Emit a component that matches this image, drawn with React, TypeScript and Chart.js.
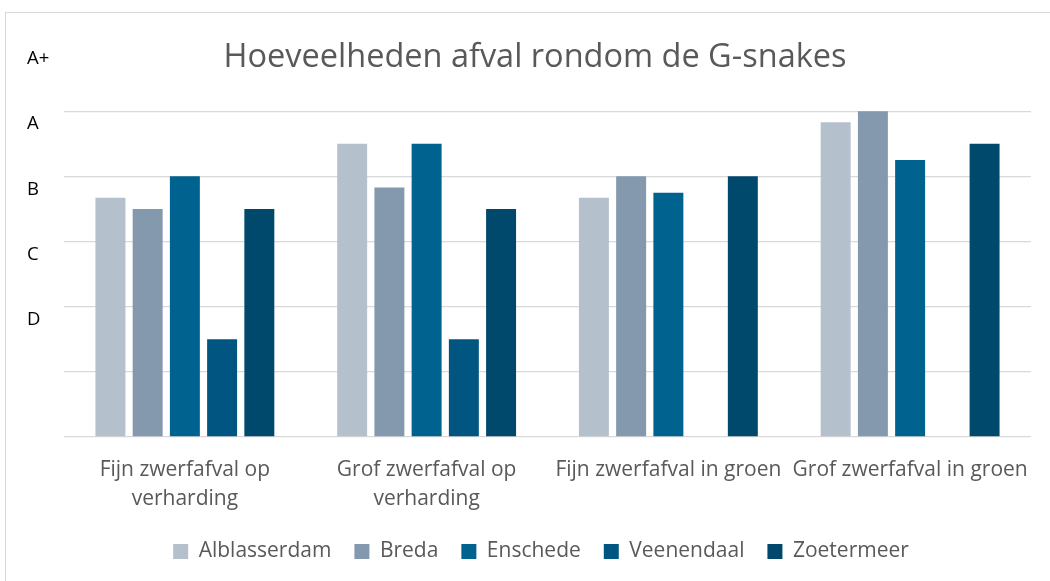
import React, { useEffect, useRef } from "react";
import { Chart, registerables } from "chart.js";

Chart.register(...registerables);

const TITLE = "Hoeveelheden afval rondom de G-snakes";
const categories: string[][] = [
  ["Fijn zwerfafval op", "verharding"],
  ["Grof zwerfafval op", "verharding"],
  ["Fijn zwerfafval in groen"],
  ["Grof zwerfafval in groen"],
];
const seriesNames = ["Alblasserdam", "Breda", "Enschede", "Veenendaal", "Zoetermeer"];
const alblasserdam = [3.67, 4.5, 3.67, 4.83];
const breda = [3.5, 3.83, 4, 5];
const enschede = [4, 4.5, 3.75, 4.25];
const veenendaal: (number | null)[] = [1.5, 1.5, null, null];
const zoetermeer = [3.5, 3.5, 4, 4.5];
const seriesColors = ["#B4C1CD", "#8498AE", "#00628F", "#005680", "#00496C"];
const yTickLabels: Record<number, string> = { 6: "A+", 5: "A", 4: "B", 3: "C", 2: "D" };

const FONT = "'Open Sans', sans-serif";

export default function App() {
  const ref = useRef<HTMLCanvasElement | null>(null);
  useEffect(() => {
    if (!ref.current) return;
    const seriesData = [alblasserdam, breda, enschede, veenendaal, zoetermeer];
    const framePlugin = {
      id: "frameAndTitle",
      afterLayout(chart: any) {
        if (chart.legend) {
          chart.legend.left += 12;
          chart.legend.right += 12;
        }
      },
      beforeDraw(chart: any) {
        const ctx = chart.ctx;
        ctx.save();
        ctx.fillStyle = "#ffffff";
        ctx.fillRect(0, 0, chart.width, chart.height);
        ctx.strokeStyle = "#d9d9d9";
        ctx.lineWidth = 1;
        ctx.strokeRect(5.5, 12.5, chart.width + 20, chart.height + 20);
        ctx.restore();
      },
      afterDraw(chart: any) {
        const ctx = chart.ctx;
        ctx.save();
        ctx.fillStyle = "#595959";
        ctx.font = `32.5px ${FONT}`;
        ctx.textAlign = "center";
        ctx.textBaseline = "middle";
        ctx.fillText(TITLE, 535, 58);
        ctx.restore();
      },
    };
    const chart = new Chart(ref.current, {
      type: "bar",
      data: {
        labels: categories,
        datasets: seriesNames.map((name, i) => ({
          label: name,
          data: seriesData[i],
          backgroundColor: seriesColors[i],
          borderWidth: 0,
          categoryPercentage: 0.77,
          barPercentage: 0.805,
        })),
      },
      options: {
        animation: false,
        responsive: true,
        maintainAspectRatio: false,
        layout: { padding: { left: 27, right: 19, top: 46, bottom: 9 } },
        plugins: {
          title: { display: false },
          tooltip: { enabled: false },
          legend: {
            position: "bottom",
            labels: {
              boxWidth: 15,
              boxHeight: 15,
              padding: 23,
              color: "#595959",
              font: { family: FONT, size: 21 },
            },
          },
        },
        scales: {
          x: {
            grid: { display: false, drawTicks: false },
            border: { display: false },
            afterFit: (scale: any) => {
              scale.height = 81;
            },
            ticks: {
              color: "#595959",
              font: { family: FONT, size: 21, lineHeight: 1.4 },
              padding: 18,
              maxRotation: 0,
              autoSkip: false,
            },
          },
          y: {
            min: 0,
            max: 6,
            grid: {
              color: (c: any) => (c.tick && c.tick.value === 6 ? "rgba(0,0,0,0)" : "#d9d9d9"),
              lineWidth: 1.3,
              drawTicks: false,
            },
            border: { display: false },
            afterFit: (scale: any) => {
              scale.width = 37;
            },
            ticks: {
              stepSize: 1,
              crossAlign: "far",
              labelOffset: 13,
              color: "#000000",
              font: { family: FONT, size: 18.5 },
              callback: (v: any) => yTickLabels[Number(v)] ?? "",
            },
          },
        },
      },
      plugins: [framePlugin],
    });
    return () => chart.destroy();
  }, []);
  return (
    <div style={{ position: "fixed", left: 0, top: 0, width: 1050, height: 581, background: "#fff" }}>
      <canvas ref={ref} />
    </div>
  );
}
